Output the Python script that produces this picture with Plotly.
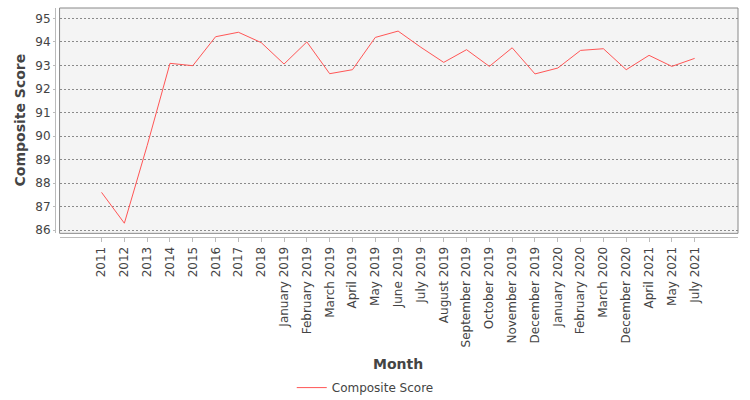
# -*- coding: utf-8 -*-
# composite score by month (line)
import plotly.graph_objects as go

#---------------
months = ["2011", "2012", "2013", "2014", "2015", "2016", "2017", "2018",
          "January 2019", "February 2019", "March 2019", "April 2019", "May 2019",
          "June 2019", "July 2019", "August 2019", "September 2019", "October 2019",
          "November 2019", "December 2019", "January 2020", "February 2020",
          "March 2020", "December 2020", "April 2021", "May 2021", "July 2021"]
score = [87.61, 86.30, 89.60, 93.09, 92.99, 94.22, 94.41, 93.97,
         93.06, 94.00, 92.65, 92.82, 94.19,
         94.46, 93.77, 93.13, 93.67, 92.96,
         93.75, 92.64, 92.89, 93.64,
         93.71, 92.82, 93.43, 92.96, 93.30]
y_ticks = [86, 87, 88, 89, 90, 91, 92, 93, 94, 95]

FONT = "DejaVu Sans"
TXT = "#444444"

#---------------
def mk_chart(out_path="out.html"):
  fig = go.Figure()
  fig.add_trace(go.Scatter(x=months, y=score, mode="lines", name="Composite Score",
                           line=dict(color="#FF5555", width=1)))
  fig.update_layout(
    width=750, height=400,
    margin=dict(l=55, r=12, t=8, b=163, autoexpand=False),
    paper_bgcolor="white", plot_bgcolor="#F4F4F4",
    font=dict(family=FONT, size=12, color=TXT),
    showlegend=True,
    legend=dict(orientation="h", xref="container", yref="container",
                x=0.487, xanchor="center", y=0.031, yanchor="middle",
                font=dict(family=FONT, size=12, color=TXT)),
    xaxis=dict(type="category", domain=[0.0067, 1], anchor="free", position=0,
               automargin=False,
               range=[-1.84, 27.9], tickangle=-90, showgrid=False,
               showline=True, linecolor="#BBBBBB", linewidth=1,
               ticks="outside", ticklen=4, tickcolor="#BBBBBB",
               tickfont=dict(family=FONT, size=12, color=TXT), zeroline=False),
    yaxis=dict(domain=[0.016, 1], anchor="free", position=0,
               automargin=False,
               range=[85.87, 95.44], tickvals=y_ticks,
               showgrid=True, gridcolor="#8A8A8A", gridwidth=1, griddash="2px,2px",
               showline=True, linecolor="#BBBBBB", linewidth=1,
               ticks="outside", ticklen=2, tickcolor="#BBBBBB",
               tickfont=dict(family=FONT, size=12, color=TXT), zeroline=False),
  )
  # plot border
  fig.add_shape(type="rect", xref="x domain", yref="y domain", x0=0, x1=1, y0=0, y1=1,
                line=dict(color="#888888", width=1), fillcolor="rgba(0,0,0,0)", layer="above")
  # axis titles
  fig.add_annotation(text="<b>Month</b>", xref="paper", yref="paper", x=0.502, y=-0.5546,
                     xanchor="center", yanchor="middle",
                     showarrow=False, font=dict(family=FONT, size=14, color=TXT))
  fig.add_annotation(text="<b>Composite Score</b>", xref="paper", yref="paper", x=-0.0512, y=0.509,
                     xanchor="center", yanchor="middle",
                     textangle=-90, showarrow=False, font=dict(family=FONT, size=14, color=TXT))
  # page body has an 8px default margin, drop it so the figure fills the window
  fig.write_html(out_path, config={"displayModeBar": False},
                 post_script="document.body.style.margin='0';")
  return

if __name__ == "__main__":
  mk_chart()
